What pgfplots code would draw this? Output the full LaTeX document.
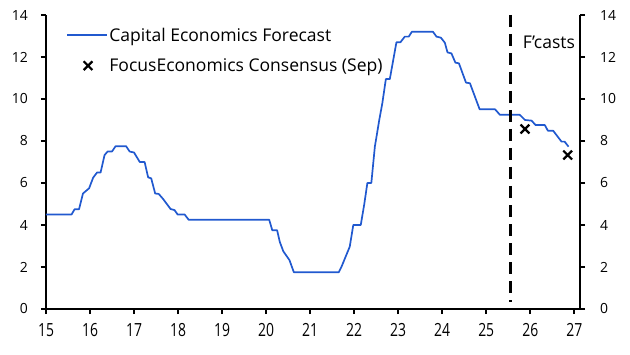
\documentclass[border=0pt]{standalone}
\usepackage{pgfplots}
\pgfplotsset{compat=1.18}
\usepackage{fontspec}
\setmainfont{Open Sans}
\definecolor{ceblue}{HTML}{2159CF}
\pgfplotsset{
  lineleg/.style={legend image code/.code={\draw[##1] (0bp,0bp) -- (40bp,0bp);}},
  markleg/.style={legend image code/.code={\path[draw=none] (0bp,0bp) -- (40bp,0bp); \draw[##1] plot coordinates {(21bp,0bp)};}},
}
\begin{document}
\begin{tikzpicture}
\pgfplotsset{
  common/.style={
    scale only axis, width=534bp, height=294bp,
    at={(0bp,0bp)}, anchor=south west,
    xmin=15, xmax=27.13, ymin=0, ymax=14,
    ytick={0,2,...,14},
    tick align=outside, major tick length=5bp,
    every tick/.style={black, line width=2bp},
    axis line style={line width=2.6bp, -},
    /pgf/number format/assume math mode=true,
    ticklabel style={font=\fontsize{14}{14}\selectfont, inner sep=0pt},
    clip=false,
  }
}
\begin{axis}[common,
  axis x line*=bottom, axis y line*=left,
  xtick={15,...,27},
  xticklabel={\scalebox{1}[1.3]{\pgfmathprintnumber{\tick}}},
  xticklabel style={yshift=-9bp},
  yticklabel style={xshift=-13bp},
  legend style={at={(axis description cs:0,1)}, anchor=north west,
    xshift=17bp, yshift=-9bp, draw=none, fill=none,
    font=\fontsize{17.6}{20}\selectfont, row sep=13bp,
    nodes={inner sep=1.5bp}},
  legend cell align=left,
]
\addplot[ceblue, line width=1.7bp, line join=round, lineleg]
coordinates {
(15.00,4.5) (15.58,4.5) (15.65,4.75) (15.75,4.75) (15.84,5.5) (15.98,5.75)
(16.07,6.25) (16.16,6.5) (16.24,6.5) (16.33,7.33) (16.40,7.5) (16.50,7.5)
(16.58,7.75) (16.82,7.75) (16.90,7.5) (17.00,7.45) (17.13,7.0) (17.24,7.0)
(17.32,6.27) (17.39,6.22) (17.48,5.5) (17.56,5.48) (17.66,5.24) (17.83,4.76)
(17.92,4.71) (17.99,4.5) (18.15,4.5) (18.24,4.25) (20.07,4.25) (20.14,3.75)
(20.25,3.75) (20.31,3.2) (20.39,2.75) (20.53,2.33) (20.63,1.75) (21.65,1.75)
(21.71,2.0) (21.90,2.97) (21.98,4.0) (22.15,4.0) (22.23,5.0) (22.30,6.0)
(22.39,6.0) (22.47,7.73) (22.57,9.0) (22.64,9.8) (22.72,10.95) (22.81,10.95)
(22.96,12.7) (23.05,12.7) (23.15,12.97) (23.24,12.97) (23.31,13.2) (23.79,13.2)
(23.87,12.97) (23.97,12.92) (24.06,12.68) (24.12,12.22) (24.21,12.17) (24.30,11.73)
(24.38,11.7) (24.54,10.78) (24.63,10.75) (24.85,9.51) (25.20,9.51) (25.31,9.25)
(25.76,9.25) (25.88,9.0) (26.03,8.97) (26.12,8.76) (26.33,8.76) (26.40,8.49)
(26.52,8.49) (26.71,7.97) (26.78,7.97) (26.87,7.73)
};
\addlegendentry{Capital Economics Forecast}
\addplot[only marks, mark=x, mark size=6.2bp, black, line width=2.2bp, markleg]
coordinates {(25.88,8.57) (26.85,7.33)};
\addlegendentry{FocusEconomics Consensus (Sep)}
\addplot[forget plot, black, line width=2.6bp, dash pattern=on 12bp off 7bp]
coordinates {(25.55,14) (25.55,0.35)};
\node[anchor=west, inner sep=0pt, font=\fontsize{17.6}{20}\selectfont] at (axis cs:25.83,12.7) {F'casts};
\end{axis}
\begin{axis}[common,
  axis x line=none, axis y line*=right,
  yticklabel style={xshift=15bp},
]
\end{axis}
\pgfresetboundingbox
\path[use as bounding box] (-46bp,-46bp) rectangle (584bp,309bp);
\end{tikzpicture}
\end{document}
